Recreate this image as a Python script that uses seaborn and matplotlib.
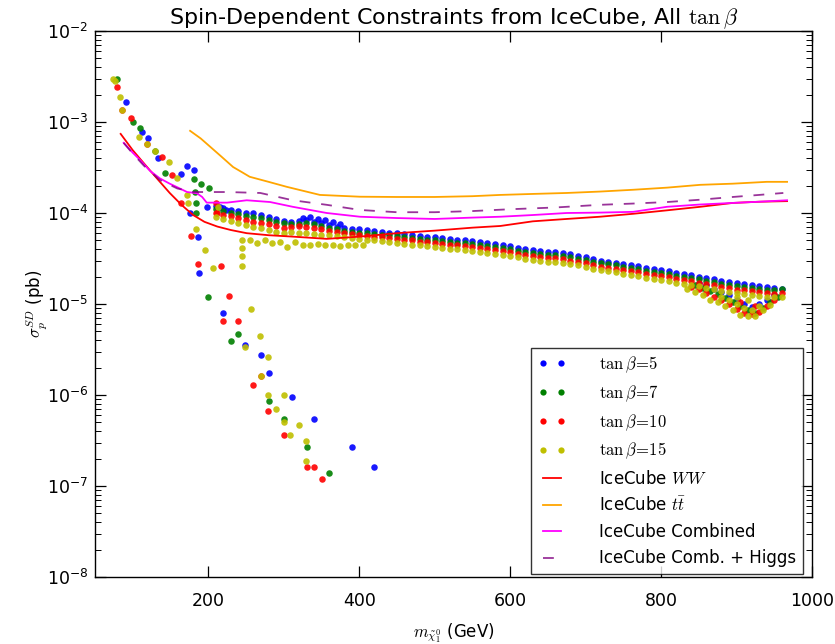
import numpy as np
import pandas as pd
import matplotlib
matplotlib.use("Agg")
import matplotlib.pyplot as plt
from matplotlib.lines import Line2D
from matplotlib.ticker import FuncFormatter, FixedLocator
import seaborn as sns

# ---------------- data ----------------
# shared mass grid of the main band (GeV)
band_m = [210, 220, 230, 240, 250, 260, 270, 280, 290, 300,
          310, 320, 330, 340, 350, 360, 370, 380, 390, 400,
          410, 420, 430, 440, 450, 460, 470, 480, 490, 500,
          510, 520, 530, 540, 550, 560, 570, 580, 590, 600,
          610, 620, 630, 640, 650, 660, 670, 680, 690, 700,
          710, 720, 730, 740, 750, 760, 770, 780, 790, 800,
          810, 820, 830, 840, 850, 860, 870, 880, 890, 900,
          910, 920, 930, 940, 950, 960]

# band values, units of 1e-5 pb
band_tb5 = [12.0, 11.3, 10.7, 10.5, 10.1, 9.9, 9.5, 9.1, 8.7, 8.2,
            8.0, 8.2, 8.4, 8.0, 7.7, 7.4, 7.1, 6.9, 6.7, 6.6,
            6.5, 6.4, 6.2, 6.1, 6.0, 5.85, 5.75, 5.6, 5.5, 5.4,
            5.3, 5.2, 5.1, 5.0, 4.9, 4.8, 4.65, 4.55, 4.45, 4.3,
            4.15, 4.0, 3.9, 3.8, 3.75, 3.7, 3.6, 3.5, 3.4, 3.25,
            3.12, 3.0, 2.92, 2.85, 2.78, 2.7, 2.6, 2.5, 2.42, 2.35,
            2.28, 2.2, 2.13, 2.06, 2.0, 1.93, 1.86, 1.8, 1.73, 1.68,
            1.64, 1.6, 1.56, 1.53, 1.5, 1.46]
band_tb7 = [11.0, 10.5, 10.0, 9.8, 9.3, 9.0, 8.8, 8.4, 8.0, 7.7,
            7.6, 7.6, 7.7, 7.5, 7.2, 6.9, 6.6, 6.4, 6.2, 6.1,
            6.0, 5.9, 5.8, 5.7, 5.55, 5.45, 5.35, 5.2, 5.1, 5.0,
            4.9, 4.8, 4.7, 4.65, 4.55, 4.45, 4.3, 4.2, 4.1, 4.0,
            3.85, 3.72, 3.62, 3.53, 3.48, 3.43, 3.35, 3.25, 3.15, 3.02,
            2.9, 2.8, 2.72, 2.65, 2.58, 2.5, 2.42, 2.33, 2.25, 2.18,
            2.12, 2.05, 1.98, 1.92, 1.86, 1.8, 1.73, 1.67, 1.61, 1.56,
            1.52, 1.49, 1.46, 1.43, 1.42, 1.45]
band_tb10 = [10.0, 9.6, 9.2, 8.8, 8.4, 8.0, 7.8, 7.5, 7.2, 6.9,
             7.0, 7.2, 7.0, 6.8, 6.6, 6.4, 6.2, 6.0, 5.9, 5.7,
             5.6, 5.5, 5.4, 5.3, 5.2, 5.1, 5.0, 4.85, 4.75, 4.65,
             4.55, 4.45, 4.4, 4.3, 4.2, 4.1, 4.0, 3.9, 3.8, 3.7,
             3.57, 3.45, 3.36, 3.28, 3.22, 3.18, 3.1, 3.0, 2.92, 2.8,
             2.68, 2.58, 2.51, 2.45, 2.39, 2.32, 2.24, 2.15, 2.08, 2.02,
             1.96, 1.9, 1.83, 1.77, 1.72, 1.66, 1.6, 1.55, 1.49, 1.44,
             1.41, 1.38, 1.35, 1.32, 1.3, 1.33]
band_tb15 = [9.0, 8.6, 8.2, 7.8, 7.4, 7.0, 6.8, 6.5, 6.2, 6.0,
             6.2, 6.0, 6.0, 5.9, 5.8, 5.7, 5.6, 5.4, 5.3, 5.2,
             5.1, 5.0, 4.9, 4.8, 4.7, 4.6, 4.5, 4.4, 4.3, 4.2,
             4.12, 4.05, 3.98, 3.9, 3.82, 3.72, 3.62, 3.54, 3.45, 3.36,
             3.25, 3.13, 3.05, 2.98, 2.93, 2.88, 2.82, 2.73, 2.65, 2.55,
             2.44, 2.35, 2.28, 2.22, 2.16, 2.1, 2.03, 1.95, 1.88, 1.83,
             1.78, 1.72, 1.66, 1.61, 1.56, 1.5, 1.45, 1.4, 1.35, 1.31,
             1.28, 1.25, 1.22, 1.2, 1.18, 1.2]

# extra points (low-mass branch, funnel, fan), sigma in pb
extra_m_tb5 = [91, 112, 120, 133, 164, 172, 181, 176, 187, 188, 198, 215, 224,
               220, 249, 270, 281, 311, 340, 391, 420,
               325, 335, 345, 355, 365, 375,
               850, 860, 870, 880, 890, 900, 910, 920, 930, 940, 950]
extra_s_tb5 = [1.65e-3, 7.8e-4, 6.7e-4, 4.0e-4, 2.7e-4, 3.3e-4, 3.0e-4, 1.0e-4, 5.4e-5,
               2.2e-5, 1.15e-4, 1.15e-4, 1.08e-4,
               8.0e-6, 3.5e-6, 2.75e-6, 1.74e-6, 9.5e-7, 5.5e-7, 2.7e-7, 1.6e-7,
               8.8e-5, 9.0e-5, 8.6e-5, 8.3e-5, 8.0e-5, 7.6e-5,
               1.7e-5, 1.6e-5, 1.45e-5, 1.35e-5, 1.25e-5, 1.12e-5, 1.0e-5, 9.2e-6,
               1.0e-5, 1.1e-5, 1.25e-5]

extra_m_tb7 = [79, 100, 110, 129, 143, 181, 190, 201, 183, 184, 184,
               200, 230, 239, 281, 300, 331, 360,
               845, 855, 865, 875, 885, 895, 905, 915, 925, 935, 945, 955]
extra_s_tb7 = [3.0e-3, 1.0e-3, 8.5e-4, 4.8e-4, 2.75e-4, 2.35e-4, 2.1e-4, 1.9e-4,
               1.7e-4, 1.3e-4, 1.0e-4,
               1.2e-5, 3.9e-6, 4.7e-6, 8.5e-7, 5.4e-7, 2.7e-7, 1.4e-7,
               1.6e-5, 1.5e-5, 1.4e-5, 1.3e-5, 1.15e-5, 1.05e-5, 9.5e-6, 8.6e-6,
               8.0e-6, 9.0e-6, 1.05e-5, 1.2e-5]

extra_m_tb10 = [79, 86, 98, 119, 139, 152, 164, 177, 187, 210, 211, 217, 228,
                220, 239, 259, 270, 279, 300, 331, 340, 351,
                840, 850, 860, 870, 880, 890, 900, 910, 920, 930, 940, 950, 905, 925]
extra_s_tb10 = [2.4e-3, 1.35e-3, 1.1e-3, 5.7e-4, 4.1e-4, 2.6e-4, 1.3e-4, 5.6e-5,
                2.75e-5, 1.3e-4, 1.0e-4, 2.6e-5, 1.23e-5,
                6.5e-6, 6.5e-6, 1.3e-6, 1.6e-6, 6.6e-7, 3.6e-7, 1.6e-7, 1.6e-7, 1.2e-7,
                1.55e-5, 1.45e-5, 1.32e-5, 1.2e-5, 1.1e-5, 1.0e-5, 8.8e-6, 8.0e-6,
                7.7e-6, 8.2e-6, 9.5e-6, 1.1e-5, 1.05e-5, 9.5e-6]

extra_m_tb15 = [74, 77, 83, 86, 108, 119, 129, 148, 159, 172, 173, 184, 196, 207,
                213, 245, 245, 245, 245, 257, 249, 268, 279, 270, 279, 300, 290,
                300, 320, 309, 329, 329,
                255, 265, 275, 285, 295, 305, 315, 325, 335, 345, 355, 365, 375,
                385, 395, 405,
                835, 845, 855, 865, 875, 885, 895, 905, 915, 925, 935, 945,
                880, 890, 900, 910, 920, 930, 900, 915]
extra_s_tb15 = [3.0e-3, 2.8e-3, 1.9e-3, 1.35e-3, 6.9e-4, 5.7e-4, 4.8e-4, 3.6e-4,
                2.4e-4, 1.58e-4, 1.3e-4, 6.6e-5, 3.9e-5, 2.5e-5,
                1.15e-4, 5.0e-5, 4.1e-5, 3.4e-5, 2.6e-5, 8.9e-6, 3.4e-6, 4.4e-6,
                2.6e-6, 1.6e-6, 1.0e-6, 1.0e-6, 7.1e-7, 5.0e-7, 4.7e-7, 3.6e-7,
                3.1e-7, 1.9e-7,
                5.0e-5, 4.7e-5, 5.0e-5, 4.7e-5, 4.8e-5, 4.2e-5, 4.8e-5, 4.5e-5,
                4.4e-5, 4.6e-5, 4.4e-5, 4.5e-5, 4.3e-5, 4.5e-5, 4.4e-5, 4.5e-5,
                1.45e-5, 1.35e-5, 1.25e-5, 1.12e-5, 1.05e-5, 9.5e-6, 8.5e-6, 7.6e-6,
                7.4e-6, 7.4e-6, 8.5e-6, 9.8e-6,
                1.2e-5, 1.1e-5, 1.0e-5, 9.0e-6, 8.5e-6, 9.5e-6, 1.2e-5, 1.1e-5]

# IceCube limit curves, units of 1e-4 pb
ww_m = [84, 100, 119, 135, 149, 165, 180, 195, 212, 230, 251, 280, 312, 357,
        401, 450, 500, 550, 587, 630, 675, 719, 763, 808, 852, 895, 930, 967]
ww_s = [7.4, 4.9, 3.2, 2.25, 1.66, 1.22, 0.95, 0.80, 0.71, 0.65, 0.60, 0.57,
        0.55, 0.52, 0.55, 0.60, 0.64, 0.69, 0.72, 0.81, 0.86, 0.91, 0.98, 1.07,
        1.17, 1.29, 1.33, 1.35]
tt_m = [176, 190, 202, 217, 233, 245, 255, 280, 304, 348, 401, 450, 500, 550,
        587, 630, 675, 719, 763, 808, 852, 895, 940, 967]
tt_s = [8.0, 6.6, 5.4, 4.2, 3.2, 2.8, 2.5, 2.2, 1.94, 1.58, 1.51, 1.5, 1.5,
        1.53, 1.58, 1.62, 1.66, 1.72, 1.8, 1.9, 2.04, 2.1, 2.2, 2.2]
comb_m = [88, 100, 110, 123, 136, 149, 160, 172, 185, 192, 198, 225, 251, 282,
          312, 357, 401, 450, 500, 550, 587, 630, 675, 719, 763, 808, 852, 895,
          930, 967]
comb_s = [5.9, 4.6, 3.8, 2.9, 2.4, 2.1, 1.9, 1.7, 1.65, 1.5, 1.3, 1.3, 1.38,
          1.32, 1.17, 1.0, 0.91, 0.88, 0.86, 0.89, 0.91, 0.95, 1.0, 1.01, 1.03,
          1.17, 1.24, 1.29, 1.33, 1.38]
higgs_m = [88, 100, 115, 136, 159, 180, 225, 269, 312, 357, 401, 450, 500, 550,
           600, 660, 719, 763, 808, 852, 895, 930, 962]
higgs_s = [5.9, 4.5, 3.3, 2.3, 1.86, 1.7, 1.7, 1.66, 1.38, 1.23, 1.08, 1.02,
           1.02, 1.05, 1.1, 1.15, 1.23, 1.27, 1.32, 1.4, 1.5, 1.58, 1.66]

series_labels = [r"$\tan\beta\!=\!5$", r"$\tan\beta\!=\!7$",
                 r"$\tan\beta\!=\!10$", r"$\tan\beta\!=\!15$"]
series_colors = ["#0000ff", "#008000", "#ff0000", "#bfbf00"]

y_major = [1e-8, 1e-7, 1e-6, 1e-5, 1e-4, 1e-3, 1e-2]
x_major = [200, 400, 600, 800, 1000]

# ---------------- plot ----------------
plt.rcParams["font.family"] = ["DejaVu Sans"]
plt.rcParams["mathtext.fontset"] = "cm"

fig = plt.figure(figsize=(8.35, 6.44), dpi=100)
ax = fig.add_axes([95 / 835, 1 - 577 / 644, (812 - 95) / 835, (577 - 31) / 644])

bands = [band_tb5, band_tb7, band_tb10, band_tb15]
extras_m = [extra_m_tb5, extra_m_tb7, extra_m_tb10, extra_m_tb15]
extras_s = [extra_s_tb5, extra_s_tb7, extra_s_tb10, extra_s_tb15]

for band, em, es, col in zip(bands, extras_m, extras_s, series_colors):
    df = pd.DataFrame({
        "m": list(band_m) + list(em),
        "s": list(np.array(band) * 1e-5) + list(es),
    })
    sns.scatterplot(data=df, x="m", y="s", ax=ax, color=col, s=22,
                    linewidth=0, alpha=0.9, legend=False, zorder=2)

line_specs = [
    (ww_m, ww_s, "#ff0000", "-", "IceCube $WW$"),
    (tt_m, tt_s, "#ffa500", "-", r"IceCube $t\bar{t}$"),
    (comb_m, comb_s, "#ff00ff", "-", "IceCube Combined"),
    (higgs_m, higgs_s, "#800080", "--", "IceCube Comb. + Higgs"),
]
for m, s, col, ls, lab in line_specs:
    dfl = pd.DataFrame({"m": m, "s": np.array(s) * 1e-4})
    sns.lineplot(data=dfl, x="m", y="s", ax=ax, color=col, lw=1.3,
                 estimator=None, sort=False, legend=False, zorder=3,
                 alpha=0.8 if ls == "--" else 1.0)
    if ls == "--":
        ax.lines[-1].set_dashes((6, 6))

ax.set_yscale("log")
ax.set_xlim(50, 1000)
ax.set_ylim(1e-8, 1e-2)
ax.xaxis.set_major_locator(FixedLocator(x_major))
ax.yaxis.set_major_locator(FixedLocator(y_major))
y_minor = [k * d for d in y_major[:-1] for k in range(2, 10)]
ax.yaxis.set_minor_locator(FixedLocator(y_minor))
ax.yaxis.set_major_formatter(FuncFormatter(lambda v, p: r"$\mathregular{10^{%d}}$" % round(np.log10(v))))
ax.yaxis.set_minor_formatter(FuncFormatter(lambda v, p: ""))
ax.tick_params(which="both", direction="in", top=True, right=True, colors="black",
               labelsize=12.5)
ax.tick_params(axis="x", pad=11)
ax.tick_params(axis="y", pad=5)
ax.tick_params(which="major", length=8, width=0.9)
ax.tick_params(which="minor", length=4, width=0.7)
ax.tick_params(axis="x", which="minor", bottom=False, top=False)
for sp in ax.spines.values():
    sp.set_color("black")
    sp.set_linewidth(1.0)

ax.set_title(r"Spin-Dependent Constraints from IceCube, All $\tan\beta$",
             fontsize=16, pad=5)
ax.set_xlabel(r"$m_{\tilde{\chi}_1^0}$ (GeV)", fontsize=12, labelpad=8)
ax.set_ylabel(r"$\sigma_p^{SD}$ (pb)", fontsize=12, labelpad=-2)

handles = []
for lab, col in zip(series_labels, series_colors):
    handles.append(Line2D([], [], ls="", marker="o", ms=4.5, mew=0,
                          color=col, label=lab))
for m, s, col, ls, lab in line_specs:
    h = Line2D([], [], color=col, lw=1.3, label=lab)
    if ls == "--":
        h.set_dashes((6, 6))
        h.set_alpha(0.8)
    handles.append(h)
leg = ax.legend(handles=handles, loc="lower right", numpoints=2,
                bbox_to_anchor=((803 - 95) / 717, 3 / 546), borderaxespad=0,
                fontsize=12, handlelength=1.7, handletextpad=2.0,
                labelspacing=0.5, frameon=True, fancybox=False)
leg.get_frame().set_edgecolor("black")
leg.get_frame().set_linewidth(1.0)

fig.savefig("out.png", dpi=100, facecolor="white")
